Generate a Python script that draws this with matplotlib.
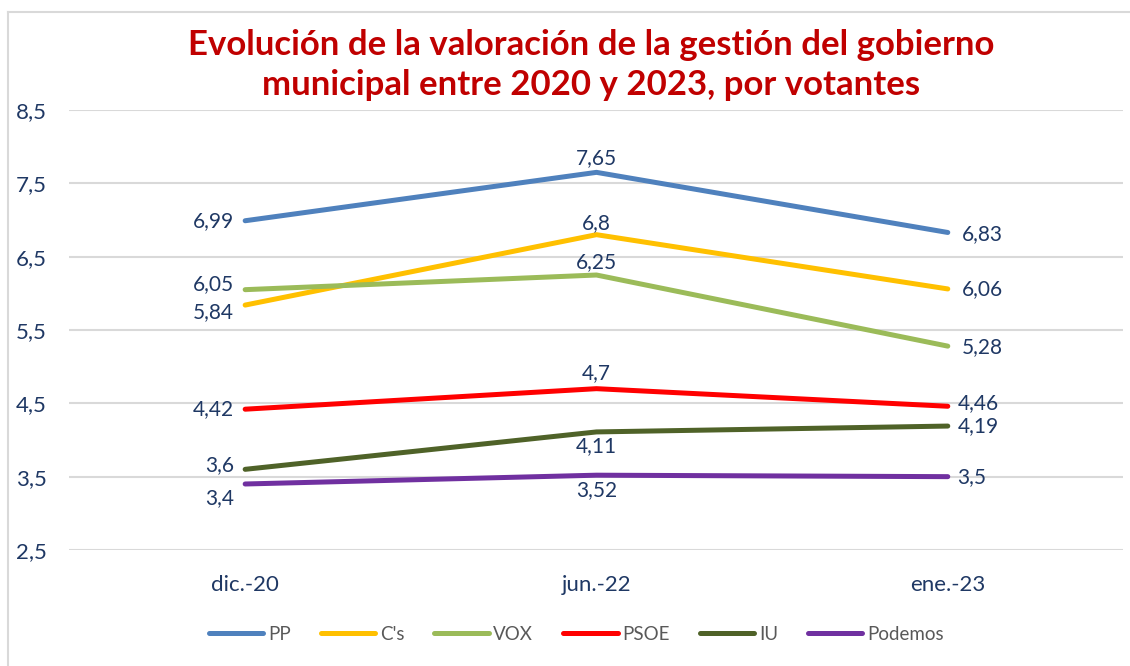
import matplotlib.pyplot as plt
from matplotlib.lines import Line2D

plt.rcParams['font.family'] = ['Lato', 'DejaVu Sans']

# Data
periods = ['dic.-20', 'jun.-22', 'ene.-23']
parties = ['PP', "C's", 'VOX', 'PSOE', 'IU', 'Podemos']
pp = [6.99, 7.65, 6.83]
cs = [5.84, 6.8, 6.06]
vox = [6.05, 6.25, 5.28]
psoe = [4.42, 4.7, 4.46]
iu = [3.6, 4.11, 4.19]
podemos = [3.4, 3.52, 3.5]
y_ticks = [2.5, 3.5, 4.5, 5.5, 6.5, 7.5, 8.5]

series = [pp, cs, vox, psoe, iu, podemos]
colors = ['#4F81BD', '#FFC000', '#9BBB59', '#FF0000', '#4F6228', '#7030A0']

# label offsets (points) per series, per period: left / middle / right
label_offsets = [
    [(-8, 0), (0, 10), (10, -1)],
    [(-8, -5), (0, 8), (10, 0)],
    [(-8, 4), (0, 9), (10, -1)],
    [(-8, 0), (0, 11), (7, 2)],
    [(-8, 3), (0, -10), (7, 0)],
    [(-8, -10), (0, -11), (7, 0)],
]

navy = '#1F3864'

fig = plt.figure(figsize=(11.3, 6.66), dpi=100)
ax = fig.add_axes([0.0615, 0.1742, 0.9327, 0.6606])

x = list(range(len(periods)))
for vals, col, name, offs in zip(series, colors, parties, label_offsets):
    ax.plot(x, vals, color=col, lw=3.6, solid_capstyle='round', label=name, zorder=3)
    for i, v in enumerate(vals):
        dx, dy = offs[i]
        ha = 'right' if i == 0 else ('center' if i == 1 else 'left')
        txt = f'{v:g}'.replace('.', ',')
        ax.annotate(txt, (i, v), xytext=(dx, dy), textcoords='offset points',
                    ha=ha, va='center', fontsize=15, color=navy, zorder=4)

ax.set_xlim(-0.5, 2.5)
ax.set_ylim(2.5, 8.5)
ax.set_yticks(y_ticks)
ax.set_yticklabels([f'{t:g}'.replace('.', ',') for t in y_ticks])
ax.set_xticks(x)
ax.set_xticklabels(periods)
ax.tick_params(length=0, labelsize=16, labelcolor=navy)
ax.tick_params(axis='y', pad=16.5)
ax.tick_params(axis='x', pad=18)
ax.grid(axis='y', color='#D9D9D9', lw=1.5)
ax.set_axisbelow(True)
for s in ax.spines.values():
    s.set_visible(False)

fig.text(0.523, 1 - 45 / 666, 'Evolución de la valoración de la gestión del gobierno',
         ha='center', va='center', fontsize=25, fontweight='bold', color='#C00000')
fig.text(0.523, 1 - 85 / 666, 'municipal entre 2020 y 2023, por votantes',
         ha='center', va='center', fontsize=25, fontweight='bold', color='#C00000')

handles = [Line2D([0], [0], color=c, lw=3.6, solid_capstyle='round') for c in colors]
leg = fig.legend(handles, parties, loc='center', bbox_to_anchor=(0.51, 0.048), ncol=6,
                 frameon=False, fontsize=13.5, handlelength=2.9, handletextpad=0.25,
                 columnspacing=1.6)
for t in leg.get_texts():
    t.set_color('#595959')

# chart frame
fig.add_artist(Line2D([8 / 1130, 8 / 1130], [0, 1 - 12 / 666], color='#D9D9D9', lw=1.5))
fig.add_artist(Line2D([8 / 1130, 1], [1 - 12 / 666, 1 - 12 / 666], color='#D9D9D9', lw=1.5))

fig.savefig('out.png', dpi=100)
